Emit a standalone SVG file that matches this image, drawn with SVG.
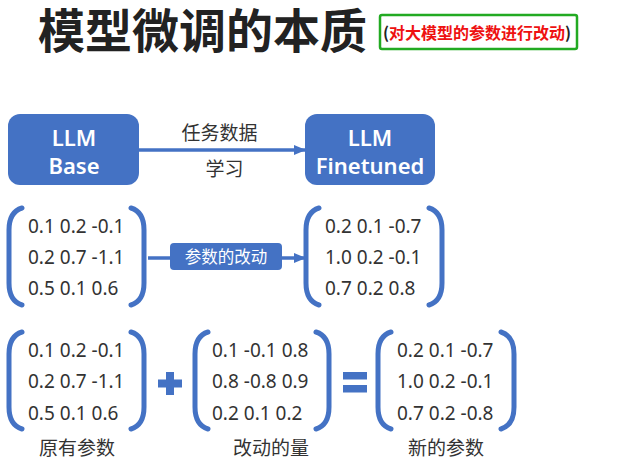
<svg xmlns="http://www.w3.org/2000/svg" width="628" height="459" viewBox="0 0 628 459">
<style>
.box{fill:#4472C4;}
.wt{fill:#fff;font-family:"Noto Sans","Noto Sans CJK SC",sans-serif;font-size:22px;font-weight:600;text-anchor:middle;}
.num{fill:#333;font-family:"Noto Sans","Noto Sans CJK SC",sans-serif;font-size:19px;}
.cjk{fill:#333;font-family:"Noto Sans CJK SC",sans-serif;font-size:19px;text-anchor:middle;}
.br{fill:none;stroke:#4472C4;stroke-width:5;stroke-linecap:round;}
.ln{stroke:#4472C4;stroke-width:3.5;fill:none;}
</style>
<defs>
<marker id="ah" markerWidth="12" markerHeight="10" refX="11" refY="5" orient="auto" markerUnits="userSpaceOnUse" viewBox="0 0 12 10">
<path d="M0,0 L12,5 L0,10 Z" fill="#4472C4"/>
</marker>
<path id="lb" d="M16,0 Q3,4 3,22 L3,75 Q3,93 16,97"/>
<path id="rb" d="M0,0 Q13,4 13,22 L13,75 Q13,93 0,97"/>
</defs>
<g id="title">
<text x="38" y="48" font-family="'Liberation Sans','Noto Sans CJK SC',sans-serif" font-size="47" font-weight="bold" fill="#222">模型微调的本质</text>
<rect x="380" y="15" width="197" height="34" rx="2" fill="#fff" stroke="#22AA22" stroke-width="2.5"/>
<text x="477" y="39" text-anchor="middle" font-family="'Noto Sans CJK SC',sans-serif" font-size="16" font-weight="bold" fill="#EE1111"><tspan fill="#222">(</tspan>对大模型的参数进行改动<tspan fill="#222">)</tspan></text>
</g>
<g id="connectors">
<line class="ln" x1="139" y1="150" x2="305" y2="150" marker-end="url(#ah)"/>
<line class="ln" x1="148" y1="258" x2="305" y2="258" marker-end="url(#ah)"/>
</g>
<g id="llm-base">
<rect class="box" x="8" y="114" width="131" height="71" rx="12"/>
<text class="wt" x="74" y="146">LLM</text>
<text class="wt" x="74" y="174">Base</text>
</g>
<g id="llm-finetuned">
<rect class="box" x="305" y="114" width="130" height="71" rx="12"/>
<text class="wt" x="370" y="146">LLM</text>
<text class="wt" x="370" y="174">Finetuned</text>
</g>
<g id="edge-label-1">
<text class="cjk" x="219.5" y="140" font-size="21">任务数据</text>
<text class="cjk" x="224.5" y="176" font-size="21">学习</text>
</g>
<g id="edge-label-2">
<rect class="box" x="170" y="243" width="112" height="27" rx="4"/>
<text x="226" y="262.5" text-anchor="middle" font-family="'Noto Sans CJK SC',sans-serif" font-size="16.5" fill="#fff">参数的改动</text>
</g>
<g id="matrix-base">
<use href="#lb" class="br" x="6" y="208"/>
<use href="#rb" class="br" x="131" y="208"/>
<text class="num" x="28" y="233">0.1 0.2 -0.1</text>
<text class="num" x="28" y="264">0.2 0.7 -1.1</text>
<text class="num" x="28" y="295">0.5 0.1 0.6</text>
</g>
<g id="matrix-finetuned">
<use href="#lb" class="br" x="303" y="208"/>
<use href="#rb" class="br" x="429" y="208"/>
<text class="num" x="325" y="233">0.2 0.1 -0.7</text>
<text class="num" x="325" y="264">1.0 0.2 -0.1</text>
<text class="num" x="325" y="295">0.7 0.2 0.8</text>
</g>
<g id="matrix-original">
<use href="#lb" class="br" x="6" y="332"/>
<use href="#rb" class="br" x="131" y="332"/>
<text class="num" x="28" y="357">0.1 0.2 -0.1</text>
<text class="num" x="28" y="388">0.2 0.7 -1.1</text>
<text class="num" x="28" y="420">0.5 0.1 0.6</text>
<text class="cjk" x="77" y="455">原有参数</text>
</g>
<g id="plus">
<rect x="166" y="372" width="8" height="23" fill="#4472C4"/>
<rect x="158" y="379.5" width="24" height="8" fill="#4472C4"/>
</g>
<g id="matrix-delta">
<use href="#lb" class="br" x="192" y="332"/>
<use href="#rb" class="br" x="316" y="332"/>
<text class="num" x="212" y="357">0.1 -0.1 0.8</text>
<text class="num" x="212" y="388">0.8 -0.8 0.9</text>
<text class="num" x="212" y="420">0.2 0.1 0.2</text>
<text class="cjk" x="271" y="455">改动的量</text>
</g>
<g id="equals">
<rect x="343" y="372" width="24" height="7.5" fill="#4472C4"/>
<rect x="343" y="385" width="24" height="7.5" fill="#4472C4"/>
</g>
<g id="matrix-new">
<use href="#lb" class="br" x="375" y="332"/>
<use href="#rb" class="br" x="501" y="332"/>
<text class="num" x="397" y="357">0.2 0.1 -0.7</text>
<text class="num" x="397" y="388">1.0 0.2 -0.1</text>
<text class="num" x="397" y="420">0.7 0.2 -0.8</text>
<text class="cjk" x="446" y="455">新的参数</text>
</g>
</svg>
